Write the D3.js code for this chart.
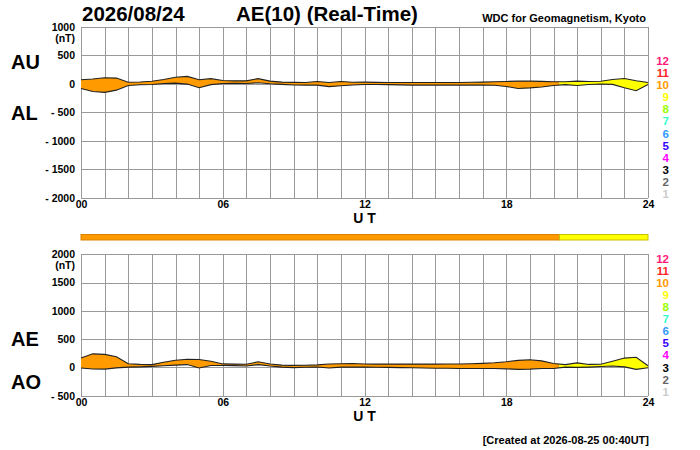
<!DOCTYPE html>
<html>
  <head>
    <meta charset="utf-8">
    <title>AE(10) (Real-Time)</title>
    <script type="text/javascript" src="https://d3js.org/d3.v7.min.js"></script>
    <style media="screen">
      body { margin: 0; background: #fff; }
      svg text { font-family: "Liberation Sans", Arial, Helvetica, sans-serif; font-weight: bold; fill: #000; }
      .grid line, .grid path { stroke: #999; stroke-width: 1; shape-rendering: crispEdges; }
    </style>
  </head>
  <body>
    <script type="text/javascript">
      // UT hours of each sample (half-hour steps)
      var hours = [0, 0.5, 1, 1.5, 2, 2.5, 3, 3.5, 4, 4.5, 5, 5.5, 6, 6.5, 7, 7.5, 8, 8.5,
        9, 9.5, 10, 10.5, 11, 11.5, 12, 12.5, 13, 13.5, 14, 14.5, 15, 15.5, 16, 16.5,
        17, 17.5, 18, 18.5, 19, 19.5, 20, 20.5, 21, 21.5, 22, 22.5, 23, 23.5, 24];
      var au = [70, 85, 105, 100, 28, 32, 45, 75, 115, 130, 70, 90, 58, 52, 52, 90, 47, 30,
        25, 23, 40, 23, 40, 28, 30, 25, 23, 23, 23, 23, 23, 23, 23, 28,
        30, 35, 41, 47, 47, 42, 35, 35, 47, 41, 45, 75, 93, 52, 23];
      var al = [-82, -135, -150, -111, -30, -17, -12, 5, 12, -5, -70, -15, 5, 10, 5, 18, 0, -10,
        -20, -23, -23, -50, -35, -20, -12, -12, -15, -18, -23, -23, -23, -23, -23, -23,
        -23, -25, -47, -82, -72, -55, -30, -15, -30, -12, -3, -10, -70, -122, -12];
      var ae = [165, 240, 230, 189, 65, 53, 50, 90, 128, 145, 140, 110, 62, 59, 55, 100, 60, 41,
        36, 38, 45, 60, 65, 68, 60, 59, 59, 59, 59, 59, 59, 60, 60, 65,
        72, 82, 100, 125, 135, 115, 70, 50, 80, 53, 55, 110, 165, 180, 30];
      var ao = [-10, -28, -30, -8, 5, 10, 18, 30, 40, 50, -10, 35, 35, 32, 25, 50, 25, 5,
        -3, 2, 8, -10, 5, 8, 6, 3, 0, -3, -6, -10, -15, -15, -18, -18,
        -18, -20, -25, -35, -30, -20, -18, 5, 0, 6, 15, 25, 10, -35, -6];

      // number of contributing stations per time span
      var segStart = [0, 20.25];
      var segEnd = [20.25, 24];
      var segStations = [10, 9];

      var legendCounts = [12, 11, 10, 9, 8, 7, 6, 5, 4, 3, 2, 1];
      var legendColors = ['#ff1a78', '#ff2222', '#ff9a00', '#ffff00', '#99ff00', '#33ffcc',
        '#3399ff', '#3300ff', '#ff00ff', '#000000', '#666666', '#cccccc'];
      var hourTicks = [0, 6, 12, 18, 24];
      var topTicks = [1000, 500, 0, -500, -1000, -1500, -2000];
      var bottomTicks = [2000, 1500, 1000, 500, 0, -500];

      var w = 700;
      var h = 450;
      var left = 81;
      var right = 648;

      var svg = d3.select('body')
        .append('svg')
        .attr('width', w)
        .attr('height', h);

      var xscale = d3.scaleLinear()
        .domain([0, 24])
        .range([left, right]);

      function stationColor(n) {
        return legendColors[legendCounts.indexOf(n)];
      }

      function panel(id, domain, top, bottom, ticks, upper, lower, upLabel, upY, lowLabel, lowY) {
        var yscale = d3.scaleLinear()
          .domain(domain)
          .range([bottom, top]);

        // grid
        svg.append('g')
          .attr('class', 'grid')
          .attr('transform', 'translate(0,' + bottom + ')')
          .call(d3.axisBottom(xscale).tickValues(d3.range(25)).tickSize(-(bottom - top)).tickFormat(''))
          .select('.domain').remove();
        svg.append('g')
          .attr('class', 'grid')
          .attr('transform', 'translate(' + left + ',0)')
          .call(d3.axisLeft(yscale).tickValues(ticks).tickSize(-(right - left)).tickFormat(''))
          .select('.domain').remove();

        // y tick labels
        var yAxis = svg.append('g')
          .attr('transform', 'translate(' + left + ',0)')
          .call(d3.axisLeft(yscale).tickValues(ticks).tickSize(0).tickPadding(6)
            .tickFormat(function(d) { return d < 0 ? '- ' + (-d) : d; }));
        yAxis.select('.domain').remove();
        yAxis.selectAll('text').style('font-size', '10.5px');
        svg.append('text')
          .attr('x', 75).attr('y', top + 15)
          .attr('text-anchor', 'end')
          .style('font-size', '10.5px')
          .text('(nT)');

        // x tick labels
        var xAxis = svg.append('g')
          .attr('transform', 'translate(0,' + bottom + ')')
          .call(d3.axisBottom(xscale).tickValues(hourTicks).tickSize(0).tickPadding(3)
            .tickFormat(function(d) { return d < 10 ? '0' + d : d; }));
        xAxis.select('.domain').remove();
        xAxis.selectAll('text').style('font-size', '10.5px');
        svg.append('text')
          .attr('x', (left + right) / 2).attr('y', bottom + 25)
          .attr('text-anchor', 'middle')
          .style('font-size', '14px')
          .text('U T');

        // filled band between the two curves, coloured by station count
        var area = d3.area()
          .x(function(d, i) { return xscale(hours[i]); })
          .y0(function(d, i) { return yscale(lower[i]); })
          .y1(function(d, i) { return yscale(upper[i]); });
        for (var s = 0; s < segStart.length; s++) {
          svg.append('clipPath')
            .attr('id', id + 'clip' + s)
            .append('rect')
            .attr('x', xscale(segStart[s]))
            .attr('y', top)
            .attr('width', xscale(segEnd[s]) - xscale(segStart[s]))
            .attr('height', bottom - top);
          svg.append('path')
            .datum(hours)
            .attr('clip-path', 'url(#' + id + 'clip' + s + ')')
            .attr('fill', stationColor(segStations[s]))
            .attr('d', area);
        }
        [upper, lower].forEach(function(series) {
          svg.append('path')
            .datum(series)
            .attr('fill', 'none')
            .attr('stroke', '#222')
            .attr('stroke-width', 1.1)
            .attr('d', d3.line()
              .x(function(d, i) { return xscale(hours[i]); })
              .y(function(d) { return yscale(d); }));
        });

        // index names
        svg.append('text').attr('x', 11).attr('y', upY).style('font-size', '20px').text(upLabel);
        svg.append('text').attr('x', 11).attr('y', lowY).style('font-size', '20px').text(lowLabel);

        // station-count legend
        svg.selectAll('.legend' + id)
          .data(legendCounts)
          .enter()
          .append('text')
          .attr('x', 669)
          .attr('y', function(d) { return bottom - (d - 1) * 12.1; })
          .attr('text-anchor', 'end')
          .style('font-size', '11.5px')
          .style('fill', function(d, i) { return legendColors[i]; })
          .text(function(d) { return d; });
      }

      panel('top', [-2000, 1000], 26.7, 198, topTicks, au, al, 'AU', 69, 'AL', 120);
      panel('bot', [-500, 2000], 254.3, 395.7, bottomTicks, ae, ao, 'AE', 346, 'AO', 389);

      // station-count bar between panels
      var darker = { 10: '#d98200', 9: '#c8bf00' };
      for (var s = 0; s < segStart.length; s++) {
        svg.append('rect')
          .attr('x', xscale(segStart[s]))
          .attr('y', 234.5)
          .attr('width', xscale(segEnd[s]) - xscale(segStart[s]))
          .attr('height', 5.5)
          .attr('fill', stationColor(segStations[s]))
          .attr('stroke', darker[segStations[s]])
          .attr('stroke-width', 1);
      }

      // titles
      svg.append('text').attr('x', 82).attr('y', 21).style('font-size', '20.5px').text('2026/08/24');
      svg.append('text').attr('x', 236).attr('y', 21).style('font-size', '20.5px').text('AE(10) (Real-Time)');
      svg.append('text').attr('x', 646).attr('y', 21.5).attr('text-anchor', 'end')
        .style('font-size', '11px').text('WDC for Geomagnetism, Kyoto');
      svg.append('text').attr('x', 649).attr('y', 444).attr('text-anchor', 'end')
        .style('font-size', '11px').text('[Created at 2026-08-25 00:40UT]');
    </script>
  </body>
</html>
